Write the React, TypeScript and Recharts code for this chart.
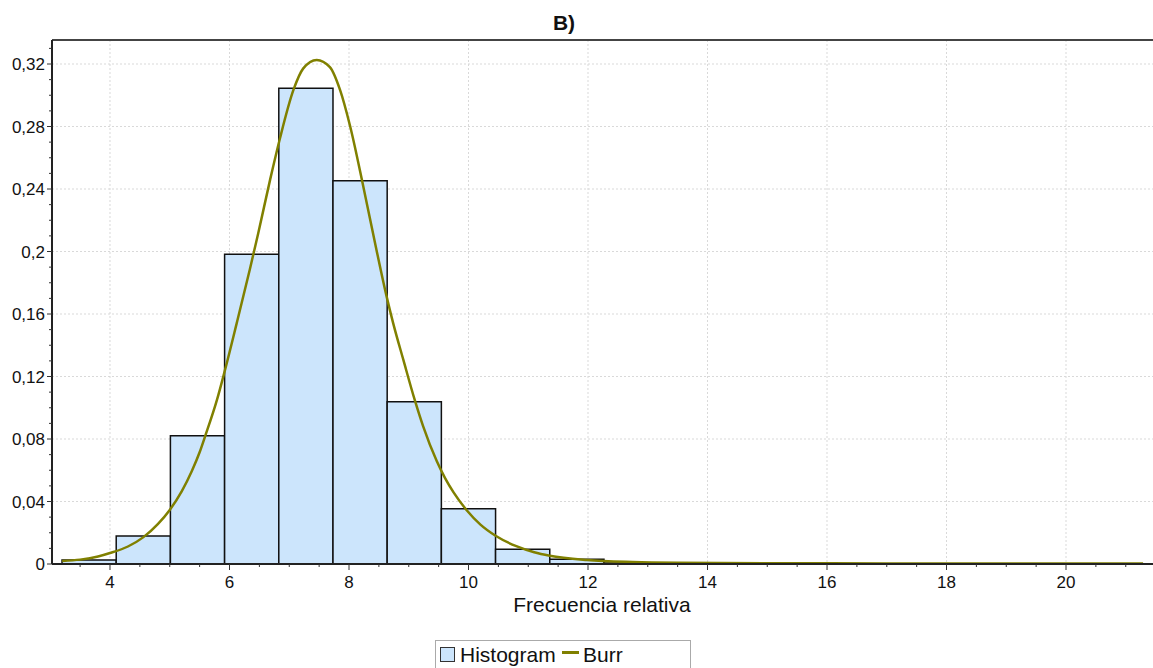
import React from "react";
import {
  ComposedChart,
  Line,
  XAxis,
  YAxis,
  CartesianGrid,
  ReferenceArea,
  ReferenceLine,
} from "recharts";

// histogram bins (left edge, right edge, relative frequency)
const binStart = [3.197, 4.104, 5.011, 5.918, 6.825, 7.732, 8.639, 9.546, 10.453, 11.36, 12.267];
const binEnd = [4.104, 5.011, 5.918, 6.825, 7.732, 8.639, 9.546, 10.453, 11.36, 12.267, 13.174];
const binFreq = [0.0025, 0.0179, 0.0821, 0.1982, 0.3045, 0.2453, 0.1039, 0.0354, 0.0094, 0.003, 0.0007];

// fitted Burr curve
const burrX = [
  3.2, 3.5, 3.8, 4.0, 4.3, 4.56, 4.8, 5.0, 5.2, 5.37, 5.5, 5.59, 5.79, 5.925, 6.12, 6.34, 6.48,
  6.68, 6.845, 7.07, 7.235, 7.46, 7.68, 7.85, 8.02, 8.24, 8.46, 8.63, 8.74, 8.91, 9.1, 9.24, 9.47,
  9.61, 9.75, 9.97, 10.2, 10.46, 10.8, 11.1, 11.36, 11.98, 12.75, 13.5, 15, 17, 19, 21.29,
];
const burrY = [
  0.0019, 0.0028, 0.0048, 0.007, 0.0112, 0.0172, 0.0255, 0.0346, 0.0465, 0.0595, 0.0715, 0.0815,
  0.105, 0.1242, 0.154, 0.1885, 0.2115, 0.246, 0.2725, 0.3034, 0.3172, 0.3226, 0.318, 0.3034, 0.28,
  0.2415, 0.201, 0.1711, 0.154, 0.1306, 0.105, 0.0882, 0.0657, 0.0548, 0.0458, 0.0344, 0.0252,
  0.0179, 0.0114, 0.0075, 0.0053, 0.0026, 0.0013, 0.0008, 0.0005, 0.0004, 0.0003, 0.0003,
];

const xMajor = [4, 6, 8, 10, 12, 14, 16, 18, 20];
const xTicks = [
  3.5, 4, 4.5, 5, 5.5, 6, 6.5, 7, 7.5, 8, 8.5, 9, 9.5, 10, 10.5, 11, 11.5, 12, 12.5, 13, 13.5,
  14, 14.5, 15, 15.5, 16, 16.5, 17, 17.5, 18, 18.5, 19, 19.5, 20, 20.5, 21,
];
const yMajor = [0, 0.04, 0.08, 0.12, 0.16, 0.2, 0.24, 0.28, 0.32];
const yMajorLabels = ["0", "0,04", "0,08", "0,12", "0,16", "0,2", "0,24", "0,28", "0,32"];
const yTicks = [
  0, 0.01, 0.02, 0.03, 0.04, 0.05, 0.06, 0.07, 0.08, 0.09, 0.1, 0.11, 0.12, 0.13, 0.14, 0.15,
  0.16, 0.17, 0.18, 0.19, 0.2, 0.21, 0.22, 0.23, 0.24, 0.25, 0.26, 0.27, 0.28, 0.29, 0.3, 0.31,
  0.32, 0.33,
];

const X_DOMAIN: [number, number] = [3.0293, 21.456];
const Y_MAX = 0.33536;
const FONT = "Arial, 'Liberation Sans', sans-serif";
const BAR_FILL = "#cce5fc";
const OLIVE = "#808000";

const data = burrX.map((x, i) => ({ x, burr: burrY[i] }));

const near = (a: number, b: number) => Math.abs(a - b) < 1e-9;

function XTick(props: any) {
  const { x, y, payload } = props;
  const major = xMajor.some((m) => near(m, payload.value));
  return (
    <g>
      <line x1={x} x2={x} y1={y} y2={y + (major ? 6 : 3)} stroke="#333" strokeWidth={1} />
      {major && (
        <text x={x} y={y + 24} textAnchor="middle" fontSize={17} fontFamily={FONT} fill="#111">
          {payload.value}
        </text>
      )}
    </g>
  );
}

function YTick(props: any) {
  const { x, y, payload } = props;
  const idx = yMajor.findIndex((m) => near(m, payload.value));
  const major = idx >= 0;
  return (
    <g>
      <line x1={x - (major ? 5 : 3)} x2={x} y1={y} y2={y} stroke="#333" strokeWidth={1} />
      {major && (
        <text x={x - 7} y={y + 6} textAnchor="end" fontSize={17} fontFamily={FONT} fill="#111">
          {yMajorLabels[idx]}
        </text>
      )}
    </g>
  );
}

export default function App() {
  return (
    <div
      style={{
        position: "absolute",
        left: 0,
        top: 0,
        width: 1153,
        height: 668,
        background: "#fff",
        fontFamily: FONT,
        overflow: "hidden",
      }}
    >
      <div
        style={{
          position: "absolute",
          left: 464,
          top: 11.5,
          width: 200,
          textAlign: "center",
          fontSize: 21,
          lineHeight: "21px",
          fontWeight: "bold",
          color: "#111",
        }}
      >
        B)
      </div>

      <ComposedChart
        width={1153}
        height={668}
        data={data}
        margin={{ top: 40, right: 0, bottom: 74, left: 0 }}
        accessibilityLayer={false}
      >
        <CartesianGrid
          stroke="#d9d9d9"
          strokeDasharray="2 2"
          horizontalValues={yMajor}
          verticalValues={xMajor}
        />
        {binStart.map((b, i) => (
          <ReferenceArea
            key={i}
            x1={b}
            x2={binEnd[i]}
            y1={0}
            y2={binFreq[i]}
            fill={BAR_FILL}
            fillOpacity={1}
            stroke="#111"
            strokeWidth={1.5}
            ifOverflow="visible"
          />
        ))}
        <XAxis
          dataKey="x"
          type="number"
          domain={X_DOMAIN}
          allowDataOverflow
          ticks={xTicks}
          interval={0}
          tickSize={0}
          tickMargin={0}
          tickLine={false}
          tick={<XTick />}
          height={30}
          axisLine={{ stroke: "#222", strokeWidth: 2 }}
        />
        <YAxis
          type="number"
          domain={[0, Y_MAX]}
          allowDataOverflow
          ticks={yTicks}
          interval={0}
          tickSize={0}
          tickMargin={0}
          tickLine={false}
          tick={<YTick />}
          width={52}
          axisLine={{ stroke: "#222", strokeWidth: 2 }}
        />
        <ReferenceLine y={Y_MAX} stroke="#444" strokeWidth={2} />
        <Line
          dataKey="burr"
          type="monotone"
          stroke={OLIVE}
          strokeWidth={2.5}
          dot={false}
          activeDot={false}
          isAnimationActive={false}
        />
      </ComposedChart>

      <div
        style={{
          position: "absolute",
          left: 452,
          top: 594,
          width: 300,
          textAlign: "center",
          fontSize: 21,
          lineHeight: "21px",
          color: "#111",
        }}
      >
        Frecuencia relativa
      </div>

      {/* legend */}
      <div
        style={{
          position: "absolute",
          left: 435,
          top: 640,
          width: 256,
          height: 40,
          border: "1px solid #aaa",
          boxSizing: "border-box",
        }}
      />
      <div
        style={{
          position: "absolute",
          left: 440,
          top: 647,
          width: 15,
          height: 15,
          background: BAR_FILL,
          border: "1px solid #333",
          boxSizing: "border-box",
        }}
      />
      <div style={{ position: "absolute", left: 460, top: 644, fontSize: 21, lineHeight: "21px", color: "#111" }}>
        Histogram
      </div>
      <div style={{ position: "absolute", left: 562, top: 651, width: 17, height: 3, background: OLIVE }} />
      <div style={{ position: "absolute", left: 583, top: 644, fontSize: 21, lineHeight: "21px", color: "#111" }}>
        Burr
      </div>
    </div>
  );
}
